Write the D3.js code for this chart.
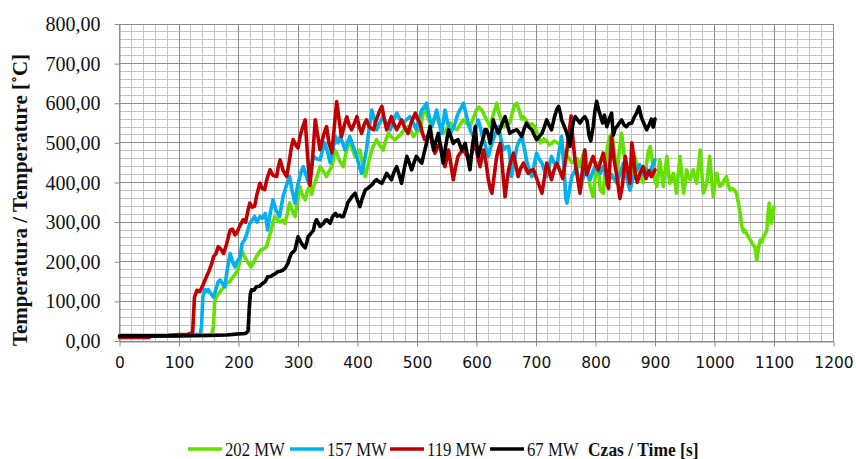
<!DOCTYPE html>
<html>
<head>
<meta charset="utf-8">
<script src="https://cdn.jsdelivr.net/npm/d3@7"></script>
<style>
  html, body { margin: 0; padding: 0; background: #ffffff; }
  svg { display: block; }
</style>
</head>
<body>
<svg id="chart" width="856" height="459"></svg>
<script>
// ---- axis ticks and labels ----
const xTickValues = [0, 100, 200, 300, 400, 500, 600, 700, 800, 900, 1000, 1100, 1200];
const yTickValues = [0, 100, 200, 300, 400, 500, 600, 700, 800];
const yTickLabels = ["0,00", "100,00", "200,00", "300,00", "400,00", "500,00", "600,00", "700,00", "800,00"];
const yTitle = "Temperatura / Temperature [˚C]";
const xTitle = "Czas / Time [s]";

// ---- series: fire power and measured temperature [time s, temperature °C] ----
const seriesNames = ["202 MW", "157 MW", "119 MW", "67 MW"];
const seriesColors = ["#66e000", "#00b0f0", "#c00000", "#000000"];

const mw202 = [[0,12],[50,12],[100,14],[140,15],[155,16],[158,40],[160,100],[163,112],[167,120],[171,129],[175,135],[180,146],[185,150],[191,162],[195,170],[199,179],[202,200],[205,230],[208,220],[210,213],[215,200],[221,187],[226,200],[230,213],[234,222],[238,230],[242,232],[247,238],[251,260],[255,280],[258,300],[261,314],[266,305],[270,300],[274,305],[278,297],[282,320],[286,348],[290,330],[295,314],[299,350],[303,390],[307,370],[312,356],[316,380],[320,390],[323,370],[326,390],[331,410],[337,440],[342,430],[348,415],[352,428],[357,440],[360,466],[362,482],[366,470],[370,455],[376,440],[380,470],[384,495],[387,508],[391,485],[396,466],[400,475],[404,482],[408,450],[413,415],[417,440],[421,466],[426,490],[432,508],[437,495],[443,482],[447,505],[452,524],[457,515],[463,508],[468,515],[474,524],[479,535],[485,541],[490,530],[494,516],[499,525],[505,533],[509,565],[513,592],[517,570],[522,550],[527,558],[533,566],[538,545],[544,524],[550,535],[556,550],[561,540],[567,533],[572,545],[578,558],[583,550],[589,541],[594,560],[600,583],[604,590],[609,583],[613,570],[617,558],[623,541],[628,570],[634,600],[638,575],[642,555],[646,540],[651,545],[656,550],[660,575],[664,595],[668,600],[672,580],[676,560],[679,566],[684,555],[688,545],[693,548],[698,541],[703,520],[708,500],[713,510],[718,505],[722,495],[726,499],[731,505],[736,500],[741,495],[746,480],[751,470],[756,460],[760,450],[765,455],[769,460],[774,440],[778,465],[782,482],[786,440],[791,390],[796,364],[800,420],[804,450],[808,381],[813,373],[817,440],[820,490],[824,516],[828,524],[832,470],[836,420],[840,480],[844,524],[848,470],[852,430],[856,400],[858,381],[862,430],[866,466],[870,440],[875,420],[880,400],[885,440],[889,480],[892,491],[896,450],[900,406],[903,390],[908,457],[911,420],[914,390],[917,430],[920,466],[923,420],[925,398],[928,410],[931,423],[934,395],[936,373],[939,420],[942,466],[945,420],[948,373],[951,400],[953,432],[956,415],[959,407],[962,420],[964,432],[967,415],[970,398],[973,440],[976,482],[979,420],[981,373],[984,385],[987,398],[990,440],[992,466],[995,410],[998,364],[1001,400],[1004,423],[1007,400],[1009,390],[1013,395],[1016,405],[1020,415],[1023,395],[1026,381],[1030,385],[1034,380],[1037,373],[1040,350],[1043,322],[1046,289],[1049,275],[1051,280],[1054,270],[1057,263],[1060,255],[1063,247],[1066,240],[1068,238],[1070,215],[1071,204],[1074,235],[1077,255],[1080,250],[1082,263],[1085,270],[1088,280],[1090,320],[1092,348],[1094,320],[1096,297],[1098,320],[1100,339]];

const mw157 = [[0,12],[50,12],[100,14],[130,16],[136,18],[138,40],[140,110],[143,130],[146,125],[149,130],[153,120],[158,111],[162,130],[166,150],[169,154],[173,145],[177,137],[181,180],[186,221],[190,200],[194,187],[198,200],[203,213],[206,246],[210,255],[214,270],[219,297],[223,305],[227,314],[231,300],[236,314],[240,310],[245,322],[249,280],[253,320],[258,356],[263,330],[269,314],[272,340],[275,365],[280,390],[286,415],[290,380],[295,348],[299,390],[303,415],[306,430],[309,440],[313,420],[318,398],[322,440],[326,466],[331,460],[337,457],[341,480],[345,500],[350,475],[354,450],[358,480],[363,516],[367,500],[371,516],[375,500],[379,482],[383,500],[387,516],[393,490],[399,466],[403,440],[407,423],[411,450],[415,482],[419,530],[424,583],[428,560],[432,533],[437,550],[443,566],[449,550],[455,533],[460,555],[466,575],[471,560],[477,550],[482,558],[488,566],[494,550],[499,533],[503,560],[508,583],[512,590],[516,600],[520,570],[525,541],[529,560],[533,583],[537,555],[541,524],[544,550],[547,583],[551,555],[556,524],[560,535],[564,550],[568,570],[572,583],[575,590],[578,600],[582,575],[586,550],[590,530],[595,516],[599,540],[603,558],[607,535],[610,515],[614,499],[617,480],[620,466],[624,490],[628,508],[632,525],[637,541],[641,510],[645,482],[650,490],[654,491],[657,450],[659,415],[663,450],[668,491],[672,505],[676,516],[680,490],[684,457],[688,435],[693,415],[697,445],[701,474],[705,460],[710,449],[714,430],[718,415],[722,440],[726,466],[730,450],[735,440],[739,480],[743,516],[747,440],[750,360],[752,348],[756,380],[760,415],[764,425],[768,440],[771,410],[774,381],[778,405],[782,432],[786,420],[791,407],[795,425],[799,440],[803,432],[808,423],[813,440],[819,415],[823,405],[827,420],[831,410],[836,398],[841,420],[847,449],[852,415],[856,390],[858,381],[863,410],[869,432],[874,445],[880,420],[885,435],[890,420],[895,440],[900,457]];

const mw119 = [[0,9],[50,9],[52,13],[80,14],[100,16],[115,17],[120,20],[123,22],[126,110],[130,128],[135,125],[140,140],[146,162],[150,175],[155,195],[158,213],[162,220],[166,238],[170,232],[175,221],[180,245],[186,280],[190,282],[194,268],[197,272],[202,290],[208,306],[212,300],[216,330],[219,348],[223,338],[227,340],[231,370],[236,398],[240,385],[244,382],[248,410],[253,432],[258,418],[264,415],[267,440],[270,457],[275,430],[281,415],[285,450],[289,490],[292,508],[296,495],[300,487],[304,520],[308,540],[312,558],[316,470],[320,393],[324,450],[329,558],[333,520],[337,483],[343,520],[348,541],[352,500],[357,475],[361,540],[365,604],[369,560],[373,516],[378,545],[382,566],[386,545],[390,533],[395,550],[399,566],[403,540],[407,524],[411,545],[415,558],[420,540],[427,533],[432,560],[437,580],[441,592],[445,560],[449,533],[453,550],[457,566],[461,548],[466,533],[470,545],[474,558],[479,540],[485,524],[490,550],[497,575],[501,560],[505,550],[509,525],[513,508],[517,515],[522,524],[526,495],[530,474],[535,490],[539,499],[543,470],[547,440],[550,460],[553,482],[557,445],[561,407],[565,440],[569,466],[573,475],[578,482],[583,470],[589,457],[593,480],[598,499],[602,465],[606,440],[610,470],[612,482],[616,450],[620,407],[623,385],[626,373],[630,420],[634,466],[637,485],[640,499],[644,430],[648,364],[651,400],[654,432],[658,455],[662,474],[666,445],[670,415],[674,435],[679,449],[683,435],[687,423],[691,430],[696,432],[700,415],[704,398],[707,385],[710,373],[714,410],[718,449],[722,430],[726,407],[730,430],[735,449],[740,430],[745,410],[749,450],[752,482],[756,530],[759,568],[762,510],[766,449],[770,410],[774,373],[778,430],[782,482],[785,420],[788,432],[792,450],[796,466],[800,445],[805,432],[809,455],[813,474],[817,440],[820,395],[822,385],[825,470],[827,516],[831,460],[836,415],[841,360],[845,390],[850,466],[854,430],[858,398],[861,500],[864,470],[866,430],[870,400],[875,423],[880,440],[885,410],[890,430],[894,415],[900,432]];

const mw67 = [[0,13],[100,13],[150,14],[180,15],[200,18],[212,19],[216,25],[218,80],[220,120],[222,129],[226,128],[230,137],[235,138],[241,146],[245,150],[249,162],[254,163],[258,167],[262,170],[266,175],[270,176],[275,179],[279,185],[283,196],[286,210],[289,221],[292,225],[295,230],[298,250],[300,263],[303,255],[306,246],[309,240],[312,235],[315,250],[317,263],[321,270],[326,280],[328,295],[331,306],[334,298],[337,289],[340,293],[343,297],[346,305],[349,306],[352,300],[354,297],[357,310],[360,318],[363,322],[366,315],[370,318],[373,314],[376,314],[380,330],[384,350],[387,356],[391,365],[396,373],[400,355],[404,339],[408,360],[413,381],[417,385],[421,390],[425,395],[428,402],[432,407],[436,402],[441,398],[445,410],[449,423],[453,415],[457,407],[461,425],[466,440],[470,420],[474,398],[478,430],[483,466],[487,450],[491,432],[495,450],[499,466],[503,458],[508,449],[512,475],[516,499],[519,520],[522,541],[525,510],[528,482],[532,505],[536,524],[540,485],[544,449],[548,490],[553,533],[557,515],[561,499],[565,505],[569,508],[572,495],[575,482],[578,490],[581,499],[585,465],[589,432],[593,490],[598,541],[600,500],[603,466],[607,490],[612,516],[614,533],[617,533],[620,520],[623,499],[626,530],[628,558],[632,540],[637,524],[642,545],[648,566],[652,545],[656,524],[662,530],[668,533],[672,525],[676,516],[680,535],[684,550],[688,540],[693,533],[697,520],[701,508],[705,515],[710,524],[714,540],[718,558],[722,545],[726,533],[731,565],[735,585],[738,592],[741,575],[743,558],[748,540],[752,524],[755,505],[757,491],[760,530],[763,555],[766,566],[770,558],[774,550],[778,560],[782,566],[786,555],[789,520],[792,505],[796,540],[799,580],[802,605],[805,585],[808,570],[812,550],[815,570],[819,541],[823,560],[827,575],[830,520],[833,535],[836,541],[840,550],[844,558],[848,545],[852,541],[856,548],[861,550],[865,565],[869,575],[873,591],[877,565],[881,550],[886,533],[890,545],[894,560],[897,540],[900,560]];

const seriesData = [mw202, mw157, mw119, mw67];

// ---- layout ----
const svg = d3.select("#chart");
const plot = { left: 119.5, right: 833.5, top: 24, bottom: 341 };

const x = d3.scaleLinear().domain([0, 1200]).range([plot.left, plot.right]);
const y = d3.scaleLinear().domain([0, 800]).range([plot.bottom, plot.top]);
const crisp = v => Math.round(v - 0.5) + 0.5;

// minor grid every 20 units, major every 100
const minorX = d3.range(0, 1201, 20).filter(v => v % 100 !== 0);
const minorY = d3.range(0, 801, 20).filter(v => v % 100 !== 0);

const grid = svg.append("g").attr("class", "grid");
grid.selectAll("line.minor-x").data(minorX).join("line")
  .attr("x1", d => crisp(x(d))).attr("x2", d => crisp(x(d)))
  .attr("y1", plot.top).attr("y2", plot.bottom)
  .attr("stroke", "#c4c4c4").attr("stroke-width", 1);
grid.selectAll("line.minor-y").data(minorY).join("line")
  .attr("y1", d => crisp(y(d))).attr("y2", d => crisp(y(d)))
  .attr("x1", plot.left).attr("x2", plot.right)
  .attr("stroke", "#c4c4c4").attr("stroke-width", 1);

// major grid via axes with full-length ticks
const xGrid = d3.axisBottom(x).tickValues(xTickValues).tickSize(-(plot.bottom - plot.top)).tickFormat("");
const yGrid = d3.axisLeft(y).tickValues(yTickValues).tickSize(-(plot.right - plot.left)).tickFormat("");
grid.append("g").attr("transform", `translate(0,${plot.bottom})`).call(xGrid)
  .call(g => g.select(".domain").remove())
  .call(g => g.selectAll(".tick").attr("transform", null))
  .call(g => g.selectAll("line").attr("stroke", "#8c8c8c")
    .attr("x1", d => crisp(x(d))).attr("x2", d => crisp(x(d))));
grid.append("g").attr("transform", `translate(${plot.left},0)`).call(yGrid)
  .call(g => g.select(".domain").remove())
  .call(g => g.selectAll(".tick").attr("transform", null))
  .call(g => g.selectAll("line").attr("stroke", "#8c8c8c")
    .attr("y1", d => crisp(y(d))).attr("y2", d => crisp(y(d))));

// axes: short outward ticks and labels
const xAxis = d3.axisBottom(x).tickValues(xTickValues).tickSize(5).tickSizeOuter(0)
  .tickFormat(d3.format("d"));
const gx = svg.append("g").attr("transform", `translate(0,${crisp(plot.bottom)})`).call(xAxis);
gx.select(".domain").attr("stroke", "#8c8c8c");
gx.selectAll(".tick line").attr("stroke", "#8c8c8c");
gx.selectAll(".tick text")
  .attr("font-family", "'DejaVu Sans', sans-serif").attr("font-size", 15.5)
  .attr("fill", "#111").attr("dy", null).attr("y", 26.5);

const yAxis = d3.axisLeft(y).tickValues(yTickValues).tickSize(5).tickSizeOuter(0)
  .tickFormat((d, i) => yTickLabels[i]);
const gy = svg.append("g").attr("transform", `translate(${crisp(plot.left)},0)`).call(yAxis);
gy.select(".domain").attr("stroke", "#8c8c8c");
gy.selectAll(".tick line").attr("stroke", "#8c8c8c");
gy.selectAll(".tick text")
  .attr("font-family", "'Liberation Serif', 'Times New Roman', serif").attr("font-size", 20)
  .attr("fill", "#111").attr("dy", null).attr("y", 6.5).attr("x", -19);

// y axis title
svg.append("text")
  .attr("transform", "translate(27,200) rotate(-90)")
  .attr("text-anchor", "middle")
  .attr("font-family", "'Liberation Serif', 'Times New Roman', serif")
  .attr("font-weight", "bold").attr("font-size", 21)
  .attr("fill", "#111")
  .text(yTitle);

// series lines
const line = d3.line().x(d => x(d[0])).y(d => y(d[1]));
svg.append("g").attr("class", "series")
  .selectAll("path").data(seriesData).join("path")
  .attr("d", line)
  .attr("fill", "none")
  .attr("stroke", (d, i) => seriesColors[i])
  .attr("stroke-width", 3.6)
  .attr("stroke-linejoin", "round")
  .attr("stroke-linecap", "round");

// legend row with the time axis title at its end (narrow serif face)
const legendX = [188, 290, 390, 490];
const titleX = 588;
const ly = 449;
const squeeze = 0.88;
const legend = svg.append("g").attr("class", "legend")
  .attr("font-family", "'Liberation Serif', 'Times New Roman', serif")
  .attr("font-size", 19).attr("fill", "#111");
seriesNames.forEach((name, i) => {
  legend.append("line")
    .attr("x1", legendX[i]).attr("x2", legendX[i] + 34).attr("y1", ly).attr("y2", ly)
    .attr("stroke", seriesColors[i]).attr("stroke-width", 3.6);
  legend.append("text")
    .attr("transform", `translate(${legendX[i] + 37},${ly + 7}) scale(${squeeze},1)`)
    .text(name);
});
legend.append("text")
  .attr("transform", `translate(${titleX},${ly + 7}) scale(0.92,1)`)
  .attr("font-weight", "bold").attr("font-size", 19).text(xTitle);
</script>
</body>
</html>
